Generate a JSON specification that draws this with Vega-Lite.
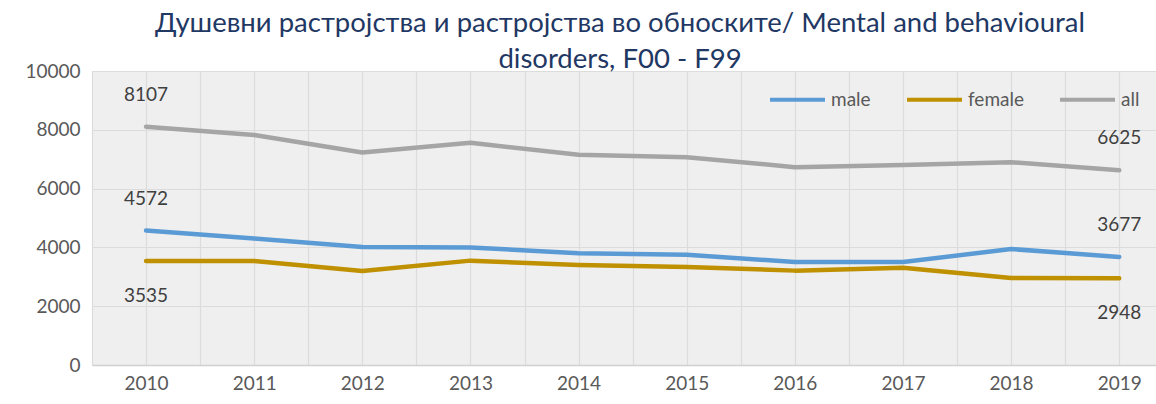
{
  "$schema": "https://vega.github.io/schema/vega-lite/v6.json",
  "width": 1064,
  "height": 294,
  "autosize": {"type": "none"},
  "padding": {"left": 92, "top": 71, "right": 0, "bottom": 39},
  "background": "white",
  "config": {
    "font": "Lato",
    "view": {"fill": "#EFEFEF", "stroke": null}
  },
  "title": {
    "text": ["Душевни растројства и растројства во обноските/ Mental and behavioural", "disorders, F00 - F99"],
    "font": "Lato",
    "fontSize": 27.5,
    "fontWeight": "normal",
    "color": "#1F3864",
    "lineHeight": 36,
    "anchor": "middle",
    "offset": -11,
    "dx": -4
  },
  "data": {
    "values": [
      {"year": 2010, "series": "male", "value": 4572},
      {"year": 2011, "series": "male", "value": 4300},
      {"year": 2012, "series": "male", "value": 4010},
      {"year": 2013, "series": "male", "value": 4000},
      {"year": 2014, "series": "male", "value": 3800},
      {"year": 2015, "series": "male", "value": 3750},
      {"year": 2016, "series": "male", "value": 3500},
      {"year": 2017, "series": "male", "value": 3500},
      {"year": 2018, "series": "male", "value": 3945},
      {"year": 2019, "series": "male", "value": 3677},
      {"year": 2010, "series": "female", "value": 3535},
      {"year": 2011, "series": "female", "value": 3535},
      {"year": 2012, "series": "female", "value": 3200},
      {"year": 2013, "series": "female", "value": 3550},
      {"year": 2014, "series": "female", "value": 3400},
      {"year": 2015, "series": "female", "value": 3330},
      {"year": 2016, "series": "female", "value": 3210},
      {"year": 2017, "series": "female", "value": 3310},
      {"year": 2018, "series": "female", "value": 2960},
      {"year": 2019, "series": "female", "value": 2948},
      {"year": 2010, "series": "all", "value": 8107},
      {"year": 2011, "series": "all", "value": 7820},
      {"year": 2012, "series": "all", "value": 7230},
      {"year": 2013, "series": "all", "value": 7560},
      {"year": 2014, "series": "all", "value": 7150},
      {"year": 2015, "series": "all", "value": 7070},
      {"year": 2016, "series": "all", "value": 6730},
      {"year": 2017, "series": "all", "value": 6800},
      {"year": 2018, "series": "all", "value": 6900},
      {"year": 2019, "series": "all", "value": 6625}
    ]
  },
  "encoding": {
    "x": {
      "field": "year",
      "type": "quantitative",
      "scale": {"domain": [2009.5, 2019.34], "nice": false, "zero": false},
      "axis": {
        "title": null,
        "values": [2009.5, 2010, 2010.5, 2011, 2011.5, 2012, 2012.5, 2013, 2013.5, 2014, 2014.5, 2015, 2015.5, 2016, 2016.5, 2017, 2017.5, 2018, 2018.5, 2019],
        "labelExpr": "datum.value % 1 == 0 ? datum.value : ''",
        "ticks": false,
        "domainColor": "#D0D0D0",
        "domainWidth": 1.5,
        "gridColor": "#DCDCDC",
        "gridWidth": 1.2,
        "labelFontSize": 19,
        "labelColor": "#595959",
        "labelPadding": 9,
        "labelFlush": false
      }
    },
    "y": {
      "field": "value",
      "type": "quantitative",
      "scale": {"domain": [0, 10000], "nice": false},
      "axis": {
        "title": null,
        "values": [0, 2000, 4000, 6000, 8000, 10000],
        "format": "d",
        "ticks": false,
        "domain": false,
        "gridColor": "#DCDCDC",
        "gridWidth": 1.2,
        "labelFontSize": 19,
        "labelColor": "#595959",
        "labelPadding": 12
      }
    }
  },
  "layer": [
    {
      "mark": {"type": "line", "strokeWidth": 4.5, "strokeCap": "round", "strokeJoin": "round"},
      "encoding": {
        "color": {
          "field": "series",
          "type": "nominal",
          "sort": ["male", "female", "all"],
          "scale": {"domain": ["male", "female", "all"], "range": ["#5B9BD5", "#BF9000", "#A5A5A5"]},
          "legend": {
            "title": null,
            "orient": "none",
            "direction": "horizontal",
            "legendX": 676,
            "legendY": -1,
            "symbolType": "stroke",
            "symbolSize": 3025,
            "symbolStrokeWidth": 4,
            "labelFontSize": 19,
            "labelColor": "#595959",
            "labelOffset": 4,
            "columnPadding": 28
          }
        }
      }
    },
    {
      "transform": [{"filter": "(datum.year == 2010 || datum.year == 2019) && datum.series != 'female'"}],
      "mark": {"type": "text", "dy": -32, "fontSize": 19, "color": "#404040", "baseline": "middle"},
      "encoding": {"text": {"field": "value", "type": "quantitative", "format": "d"}}
    },
    {
      "transform": [{"filter": "(datum.year == 2010 || datum.year == 2019) && datum.series == 'female'"}],
      "mark": {"type": "text", "dy": 35, "fontSize": 19, "color": "#404040", "baseline": "middle"},
      "encoding": {"text": {"field": "value", "type": "quantitative", "format": "d"}}
    }
  ]
}
